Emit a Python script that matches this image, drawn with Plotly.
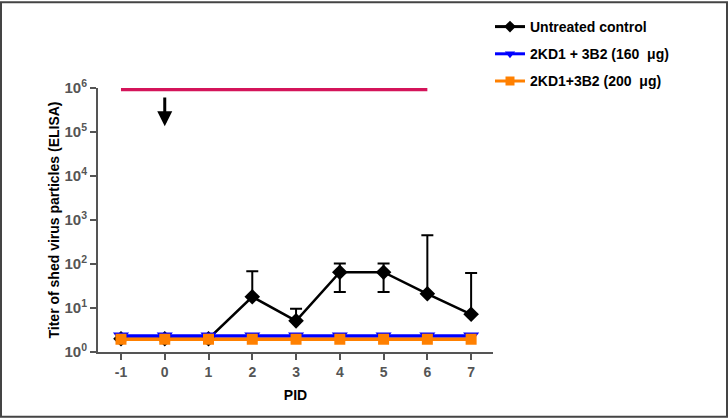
import plotly.graph_objects as go

pid = [-1, 0, 1, 2, 3, 4, 5, 6, 7]
pid_labels = ["-1", "0", "1", "2", "3", "4", "5", "6", "7"]
untreated = [2.0, 2.0, 2.0, 18, 5.1, 65, 65, 21, 7.2]
untreated_err_plus = [0, 0, 0, 50, 4.5, 37, 37, 430, 55]
untreated_err_minus = [0, 0, 0, 0, 0, 42, 42, 0, 0]
mab160 = [2.3] * 9
mab200 = [1.95] * 9
limit_x = [-1, 6]
limit_y = [9.4e5, 9.4e5]
arrow_day = 0
y_ticks = [1, 10, 100, 1000, 1e4, 1e5, 1e6]
y_ticktext = ["10<sup>%d</sup>" % k for k in range(7)]

names = ["Untreated control", "2KD1 + 3B2 (160\u00a0 \u03bcg)", "2KD1+3B2 (200\u00a0 \u03bcg)"]
colors = ["black", "#0000FF", "#FF8000"]
symbols = ["diamond", "triangle-down", "square"]

FONT = "Liberation Sans, Arial, sans-serif"

fig = go.Figure()
fig.add_trace(go.Scatter(x=limit_x, y=limit_y, mode="lines",
                         line=dict(color="#D4145A", width=4), showlegend=False,
                         hoverinfo="skip", cliponaxis=False))
fig.add_trace(go.Scatter(x=pid, y=untreated, mode="lines+markers", name=names[0],
                         line=dict(color=colors[0], width=2.5), showlegend=False,
                         marker=dict(symbol=symbols[0], size=12, color=colors[0]),
                         error_y=dict(type="data", symmetric=False, array=untreated_err_plus,
                                      arrayminus=untreated_err_minus, color="black",
                                      thickness=2, width=6),
                         cliponaxis=False))
fig.add_trace(go.Scatter(x=pid, y=mab160, mode="lines+markers", name=names[1],
                         line=dict(color=colors[1], width=3.5), showlegend=False,
                         marker=dict(symbol=symbols[1], size=14, color=colors[1]),
                         cliponaxis=False))
fig.add_trace(go.Scatter(x=pid, y=mab200, mode="lines+markers", name=names[2],
                         line=dict(color=colors[2], width=3.5), showlegend=False,
                         marker=dict(symbol=symbols[2], size=11, color=colors[2]),
                         cliponaxis=False))
# legend entries with smaller symbols
for i in range(3):
    fig.add_trace(go.Scatter(x=[None], y=[None], mode="lines+markers", name=names[i],
                             legendgroup="g%d" % i,
                             line=dict(color=colors[i], width=3),
                             marker=dict(symbol=symbols[i], size=9, color=colors[i])))

fig.add_annotation(x=arrow_day, y=5.13, ax=arrow_day, ay=5.82, xref="x", yref="y",
                   axref="x", ayref="y", showarrow=True, arrowhead=2, arrowsize=1,
                   arrowwidth=3, arrowcolor="black", text="")

L, R, T, B = 98, 235, 87, 66
W, H = 728, 418
pw, ph = W - L - R, H - T - B
fig.add_shape(type="rect", xref="paper", yref="paper",
              x0=(-L + 1) / pw, x1=(W - L - 1) / pw,
              y0=(-B + 1) / ph, y1=(H - B - 1) / ph,
              line=dict(color="#444444", width=2), fillcolor="rgba(0,0,0,0)")

fig.update_layout(
    width=W, height=H,
    margin=dict(l=L, r=R, t=T, b=B),
    paper_bgcolor="white", plot_bgcolor="white",
    font=dict(family=FONT, size=13, color="black"),
    legend=dict(x=(490 - L) / pw, xanchor="left", y=(352 - 11) / ph, yanchor="top",
                font=dict(family=FONT, size=14, color="black", weight="bold"),
                tracegroupgap=6, itemwidth=30, bgcolor="rgba(0,0,0,0)"),
    showlegend=True,
)
fig.update_xaxes(range=[-1.525, 7.5], tickvals=pid, ticktext=pid_labels, ticks="outside",
                 ticklen=6, tickwidth=2, tickcolor="#555555", showline=True,
                 linecolor="#555555", linewidth=2, showgrid=False, zeroline=False,
                 tickfont=dict(family=FONT, size=14, color="#555555", weight="bold"),
                 title=dict(text="PID", font=dict(family=FONT, size=14, color="black", weight="bold"),
                            standoff=11))
fig.update_yaxes(type="log", range=[0, 6], tickvals=y_ticks, ticktext=y_ticktext,
                 ticks="outside", ticklen=6, tickwidth=2, tickcolor="#555555",
                 showline=True, linecolor="#555555", linewidth=2, showgrid=False,
                 zeroline=False,
                 tickfont=dict(family=FONT, size=15, color="#555555", weight="bold"),
                 title=dict(text="Titer of shed virus particles (ELISA)",
                            font=dict(family=FONT, size=14, color="black", weight="bold"),
                            standoff=2))

fig.write_html("out.html", config={"displayModeBar": False},
               post_script="document.body.style.margin='0';")
